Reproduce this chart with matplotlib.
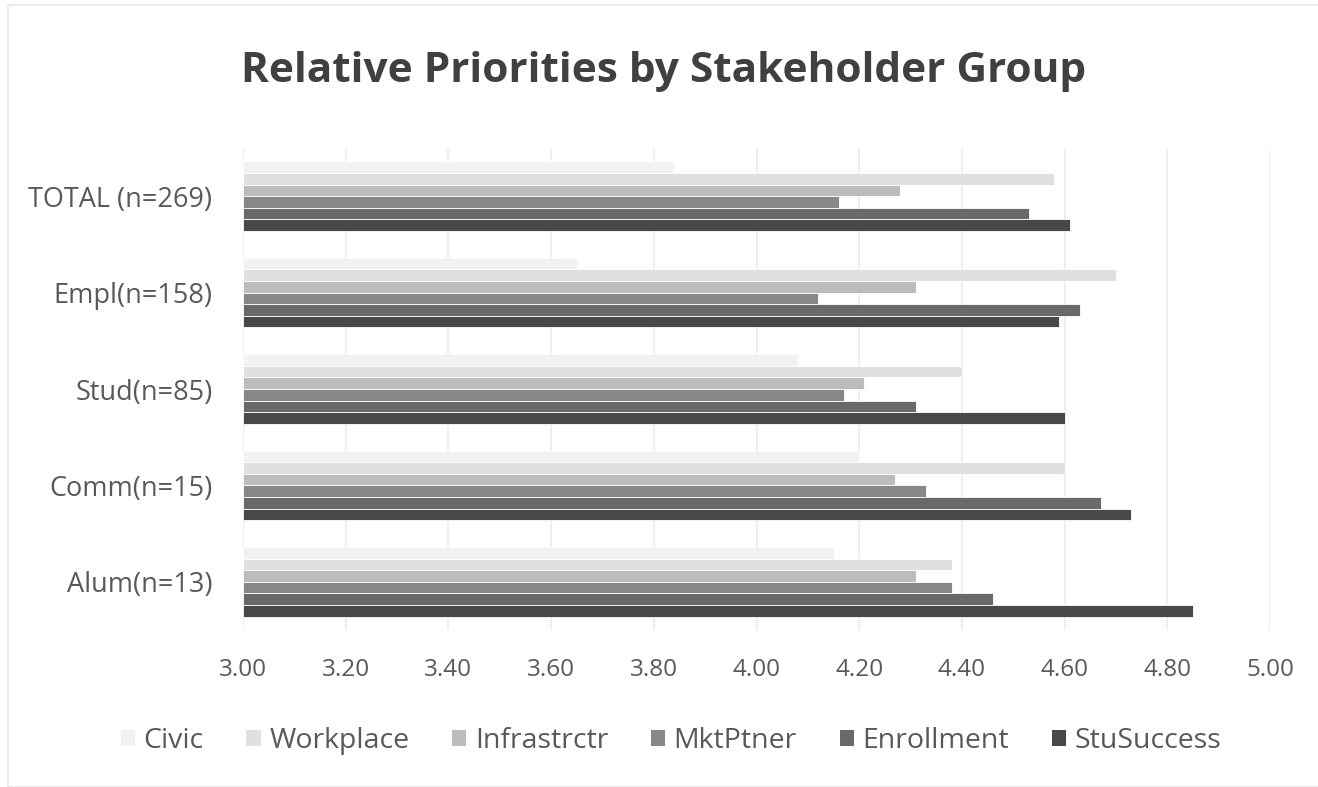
import matplotlib
matplotlib.use("Agg")
import matplotlib.pyplot as plt
from matplotlib.patches import Rectangle
import numpy as np

plt.rcParams['font.family'] = ['Open Sans', 'DejaVu Sans']

categories = ["TOTAL (n=269)", "Empl(n=158)", "Stud(n=85)", "Comm(n=15)", "Alum(n=13)"]
series_names = ["Civic", "Workplace", "Infrastrctr", "MktPtner", "Enrollment", "StuSuccess"]
civic       = [3.84, 3.65, 4.08, 4.20, 4.15]
workplace   = [4.58, 4.70, 4.40, 4.60, 4.38]
infrastrctr = [4.28, 4.31, 4.21, 4.27, 4.31]
mktptner    = [4.16, 4.12, 4.17, 4.33, 4.38]
enrollment  = [4.53, 4.63, 4.31, 4.67, 4.46]
stusuccess  = [4.61, 4.59, 4.60, 4.73, 4.85]
xticks = [3.00, 3.20, 3.40, 3.60, 3.80, 4.00, 4.20, 4.40, 4.60, 4.80, 5.00]
colors = ["#f2f2f2", "#e0e0e0", "#bcbcbc", "#888888", "#696969", "#484848"]

series = [civic, workplace, infrastrctr, mktptner, enrollment, stusuccess]

W, H = 1318, 787
fig = plt.figure(figsize=(W / 100, H / 100), dpi=100)
fig.patches.append(Rectangle((8 / W, 0), 1, 1 - 5 / H, transform=fig.transFigure,
                             facecolor="white", edgecolor="#ececec", linewidth=1.5,
                             zorder=-10))

ax = fig.add_axes([243 / W, 1 - 630 / H, (1270 - 243) / W, (630 - 148) / H])
ax.set_facecolor("none")
ax.set_zorder(5)

n_cat = len(categories)
n_ser = len(series)
group_h = 0.72
bar_h = group_h / n_ser
ypos = np.arange(n_cat)  # 0 top
for i, (vals, col, name) in enumerate(zip(series, colors, series_names)):
    offs = -group_h / 2 + bar_h * (i + 0.5)
    base = 3.0
    ax.barh(ypos + offs, np.array(vals) - base, left=base, height=bar_h, color=col,
            edgecolor="white", linewidth=0.6, label=name, zorder=2)

ax.set_xlim(3.0, 5.0)
ax.set_ylim(n_cat - 0.5, -0.5)
ax.set_xticks(xticks)
ax.set_xticklabels([f"{t:.2f}" for t in xticks])
ax.set_yticks(ypos)
ax.set_yticklabels(categories)
ax.tick_params(axis='both', length=0, labelcolor="#595959")
ax.tick_params(axis='x', pad=20, labelsize=17.5)
ax.tick_params(axis='y', pad=22, labelsize=19.5)
ax.grid(axis='x', color="#efefef", linewidth=1.5, zorder=0)
ax.set_axisbelow(True)
for s in ax.spines.values():
    s.set_visible(False)

fig.text(664 / W, 1 - 72 / H, "Relative Priorities by Stakeholder Group", ha="center", va="center",
         fontsize=30.5, fontweight="bold", color="#404040")

handles, labels = ax.get_legend_handles_labels()
leg = fig.legend(handles, labels, loc="center", bbox_to_anchor=(671 / W, 1 - 741 / H), ncol=6,
                 frameon=False, fontsize=20.5, handlelength=0.5, handleheight=0.5,
                 handletextpad=0.3, columnspacing=1.5, labelcolor="#595959")
for h in leg.legend_handles:
    h.set_edgecolor("none")

fig.savefig("out.png", dpi=100)
